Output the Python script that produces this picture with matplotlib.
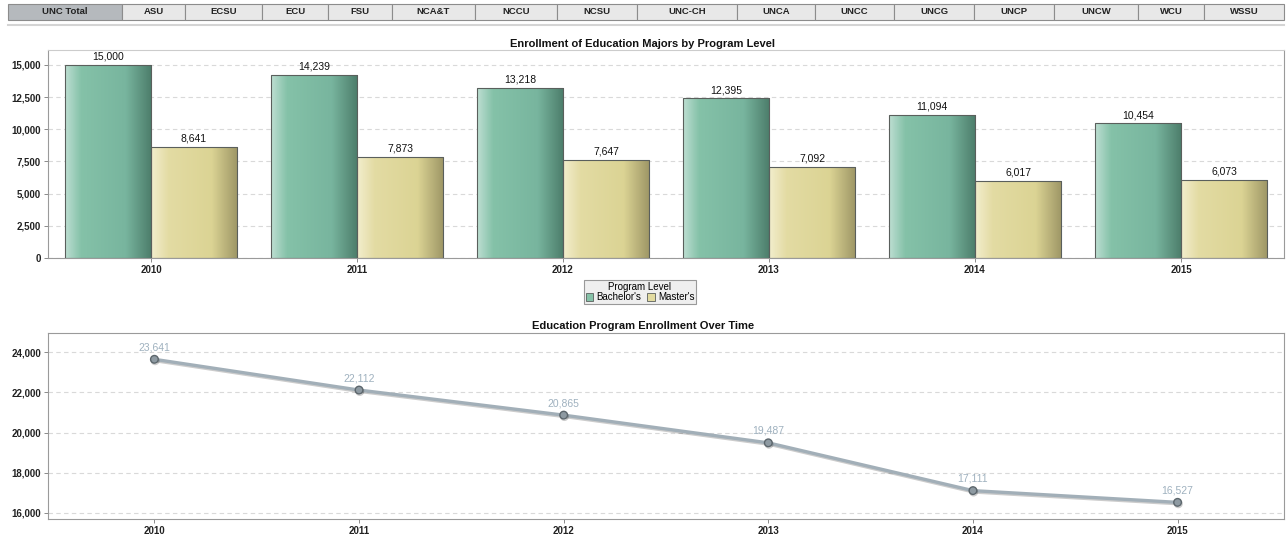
import numpy as np
import matplotlib.pyplot as plt
import matplotlib.patheffects as pe
from matplotlib.colors import LinearSegmentedColormap
from matplotlib.patches import Rectangle, Patch
from matplotlib.ticker import FuncFormatter

plt.rcParams['font.family'] = ['Liberation Sans', 'DejaVu Sans']

tabs = ['UNC Total', 'ASU', 'ECSU', 'ECU', 'FSU', 'NCA&T', 'NCCU', 'NCSU', 'UNC-CH',
        'UNCA', 'UNCC', 'UNCG', 'UNCP', 'UNCW', 'WCU', 'WSSU']
tab_edges = [8, 122, 185, 262, 328, 392, 475, 557, 637, 737, 815, 894, 974, 1054, 1138, 1204, 1284]

years = ['2010', '2011', '2012', '2013', '2014', '2015']
bachelors = [15000, 14239, 13218, 12395, 11094, 10454]
masters = [8641, 7873, 7647, 7092, 6017, 6073]
total = [23641, 22112, 20865, 19487, 17111, 16527]

W, H = 1286, 538
fig = plt.figure(figsize=(W / 100, H / 100), dpi=100)

def fx(px):
    return px / W

def fy(py):
    return 1 - py / H

# tab bar
for i, name in enumerate(tabs):
    x0, x1 = tab_edges[i], tab_edges[i + 1]
    fc = '#b5b9bd' if i == 0 else '#e8e8e8'
    fig.patches.append(Rectangle((fx(x0), fy(20)), fx(x1 - x0), 16 / H, transform=fig.transFigure,
                                 facecolor=fc, edgecolor='#8c8c8c', linewidth=0.8))
    fig.text(fx((x0 + x1) / 2), fy(12), name, ha='center', va='center', fontsize=6.8,
             fontweight='bold', color='#222222')
fig.lines.append(plt.Line2D([fx(8), fx(1284)], [fy(25), fy(25)], transform=fig.transFigure,
                            color='#d4d4d4', lw=1.5))

green_cmap = LinearSegmentedColormap.from_list('g', [(0, (0.74, 0.87, 0.82)), (0.18, (0.52, 0.76, 0.66)),
                                                     (0.7, (0.47, 0.71, 0.62)), (1, (0.30, 0.49, 0.42))])
tan_cmap = LinearSegmentedColormap.from_list('t', [(0, (0.95, 0.93, 0.80)), (0.2, (0.89, 0.86, 0.64)),
                                                   (0.7, (0.86, 0.83, 0.58)), (1, (0.62, 0.59, 0.40))])
grad = np.linspace(0, 1, 100).reshape(1, -1)

def tick_fmt(v, p):
    return f'{int(v):,}'

# top chart
ax1 = fig.add_axes([fx(48), fy(258), fx(1284 - 48), (258 - 50) / H])
x = np.arange(len(years))
bw = 0.418
for vals, off, cmap in [(bachelors, -bw / 2, green_cmap), (masters, bw / 2, tan_cmap)]:
    bars = ax1.bar(x + off, vals, bw, facecolor='none', edgecolor='#5a5f5c', linewidth=0.8, zorder=3)
    for b, v in zip(bars, vals):
        im = ax1.imshow(grad, cmap=cmap, aspect='auto', zorder=2,
                        extent=[b.get_x(), b.get_x() + b.get_width(), 0, v])
        im.set_clip_path(b)
        ax1.text(b.get_x() + b.get_width() / 2, v + 250, f'{v:,}', ha='center', va='bottom',
                 fontsize=7.5, color='#111111')
ax1.set_xlim(-0.5, 5.5)
ax1.set_ylim(0, 16160)
ax1.set_yticks(np.arange(0, 15001, 2500))
ax1.yaxis.set_major_formatter(FuncFormatter(tick_fmt))
ax1.set_xticks(x)
ax1.set_xticklabels(years)
ax1.grid(axis='y', linestyle=(0, (4, 3)), color='#d9d9d9', lw=0.8, zorder=0)
ax1.set_axisbelow(True)
fig.text(0.5, fy(44), 'Enrollment of Education Majors by Program Level', ha='center', va='center',
         fontsize=8, fontweight='bold', color='#111111')

handles = [Patch(facecolor='#86c2a8', edgecolor='#5a5f5c', lw=0.6),
           Patch(facecolor='#e2dba0', edgecolor='#5a5f5c', lw=0.6)]
leg = fig.legend(handles, ["Bachelor's", "Master's"], title='Program Level', ncol=2, loc='center',
                 bbox_to_anchor=(fx(640), fy(292)), fontsize=7, title_fontsize=7,
                 handlelength=0.8, handleheight=0.8, handletextpad=0.3, columnspacing=0.6,
                 borderpad=0.2, labelspacing=0.1, fancybox=False, framealpha=1)
leg.get_frame().set_facecolor('#efefef')
leg.get_frame().set_edgecolor('#999999')
leg.get_frame().set_linewidth(0.8)

# bottom chart
ax2 = fig.add_axes([fx(48), fy(519), fx(1284 - 48), (519 - 333) / H])
ax2.plot(x, total, color='#a2afb8', lw=2.4, marker='o', ms=5.5, mfc='#8e9aa2', mec='#5c666c', mew=1,
         zorder=3, path_effects=[pe.SimpleLineShadow(offset=(0.5, -1), alpha=0.2), pe.Normal()])
for xi, v in zip(x, total):
    ax2.annotate(f'{v:,}', (xi, v), xytext=(0, 5), textcoords='offset points', ha='center',
                 va='bottom', fontsize=7.5, color='#9fb1bf')
ax2.set_xlim(-0.52, 5.52)
ax2.set_ylim(15700, 24950)
ax2.set_yticks(np.arange(16000, 24001, 2000))
ax2.yaxis.set_major_formatter(FuncFormatter(tick_fmt))
ax2.set_xticks(x)
ax2.set_xticklabels(years)
ax2.grid(axis='y', linestyle=(0, (4, 3)), color='#d9d9d9', lw=0.8, zorder=0)
ax2.set_axisbelow(True)
fig.text(0.5, fy(326), 'Education Program Enrollment Over Time', ha='center', va='center',
         fontsize=8, fontweight='bold', color='#111111')

for ax in (ax1, ax2):
    for s in ax.spines.values():
        s.set_color('#9a9a9a')
        s.set_linewidth(0.8)
    ax.tick_params(labelsize=7, length=3, width=0.6, color='#777777', pad=2)
    for lbl in ax.get_xticklabels() + ax.get_yticklabels():
        lbl.set_fontweight('bold')
        lbl.set_color('#222222')
ax1.spines['top'].set_color('#cccccc')

fig.savefig('out.png', dpi=100)
